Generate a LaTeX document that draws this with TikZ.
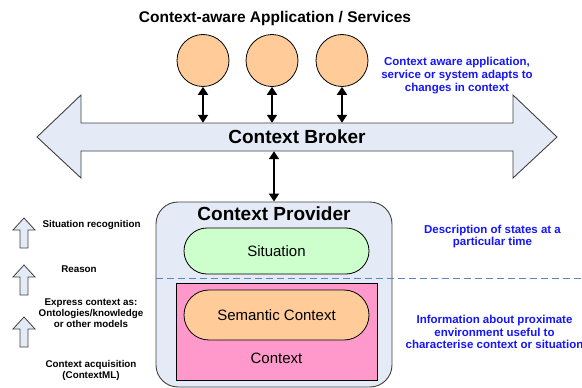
\documentclass[tikz,border=0pt]{standalone}
\usepackage{fontspec}
\setmainfont{Liberation Sans}
\usetikzlibrary{arrows.meta}

\definecolor{peach}{HTML}{FFCC99}
\definecolor{panel}{HTML}{E4EBF6}
\definecolor{mint}{HTML}{CCFFCC}
\definecolor{rose}{HTML}{FF99CC}
\definecolor{edge}{HTML}{404040}
\definecolor{dashblue}{HTML}{5A86C4}
\definecolor{notecol}{HTML}{1515FF}

\tikzset{
  app/.style={circle, draw=black, fill=peach, minimum size=52pt, inner sep=0pt, line width=0.8pt},
  link/.style={line width=2.3pt, {Triangle[width=10pt,length=8pt]}-{Triangle[width=10pt,length=8pt]}},
  busbody/.style={draw=edge, fill=panel, line width=0.9pt, line join=miter},
  lift/.style={draw=edge, fill=panel, line width=0.8pt},
  notetext/.style={text=notecol, font=\bfseries\fontsize{11.5}{12.8}\selectfont, align=center, inner sep=0pt},
  sidetext/.style={font=\bfseries\fontsize{9.8}{11}\selectfont, align=center, inner sep=0pt},
  pill/.style={draw=black, line width=0.8pt, minimum width=185pt, inner sep=0pt, font=\fontsize{15}{18}\selectfont},
  divider/.style={draw=dashblue, line width=0.9pt, dash pattern=on 7pt off 4pt}
}

\begin{document}
\begin{tikzpicture}[x=1pt, y=-1pt]
\useasboundingbox (0,0) rectangle (582,388);

% heading
\node[font=\bfseries\fontsize{15.5}{18}\selectfont, inner sep=0pt] (title) at (275,18) {Context-aware Application / Services};

% applications
\node[app] (a1) at (203,60.5) {};
\node[app] (a2) at (272,60.5) {};
\node[app] (a3) at (342,60.5) {};

\node[notetext] (n1) at (457,75.5) {Context aware application,\\service or system adapts to\\changes in context};

% broker bus (double-headed block arrow)
\draw[busbody] (37,137) -- (81,95) -- (81,123) -- (513,123) -- (513,95) -- (557,137)
  -- (513,178) -- (513,151) -- (81,151) -- (81,178) -- cycle;
\node[minimum width=432pt, minimum height=28pt, inner sep=0pt,
      font=\bfseries\fontsize{19}{22}\selectfont] (broker) at (297,137) {Context Broker};

\draw[link] (a1.south) -- (a1.south |- broker.north);
\draw[link] (a2.south) -- (a2.south |- broker.north);
\draw[link] (a3.south) -- (a3.south |- broker.north);

% provider panel
\node[draw=edge, fill=panel, line width=0.9pt, rounded corners=22pt,
      minimum width=236pt, minimum height=185pt, inner sep=0pt] (prov) at (274,294.5) {};
\node[font=\bfseries\fontsize{19}{22}\selectfont, inner sep=0pt] (provtitle) at (274,214) {Context Provider};

\draw[link] (prov.north |- broker.south) -- (prov.north);

\node[pill, fill=mint, minimum height=46pt, rounded corners=23pt] (sit) at (276.5,251) {Situation};

% level divider
\coordinate (divend) at (582,278);
\draw[divider] (prov.west |- divend) -- (divend);

\node[draw=black, fill=rose, line width=0.8pt, minimum width=201pt, minimum height=97pt, inner sep=0pt] (ctx) at (276.5,331.5) {};
\node[pill, fill=peach, minimum height=50pt, rounded corners=25pt] (sem) at (276.5,315) {Semantic Context};
\node[font=\fontsize{15}{18}\selectfont, inner sep=0pt] (ctxlabel) at (276.5,358) {Context};

\node[notetext] (n2) at (492.5,236.5) {Description of states at a\\particular time};
\node[notetext] (n3) at (494.5,332) {Information about proximate\\environment useful to\\characterise context or situation};

% processing steps on the left
\foreach \t in {218,265,317} {
  \draw[lift] (24,\t) -- (35,{\t+12}) -- (28,{\t+12}) -- (28,{\t+30}) -- (20,{\t+30})
    -- (20,{\t+12}) -- (13,{\t+12}) -- cycle;
}
\node[sidetext] (s1) at (91.5,225) {Situation recognition};
\node[sidetext] (s2) at (79,269) {Reason};
\node[sidetext] (s3) at (91,313) {Express context as:\\Ontologies/knowledge\\or other models};
\node[sidetext] (s4) at (91,370.5) {Context acquisition\\(ContextML)};
\end{tikzpicture}
\end{document}
